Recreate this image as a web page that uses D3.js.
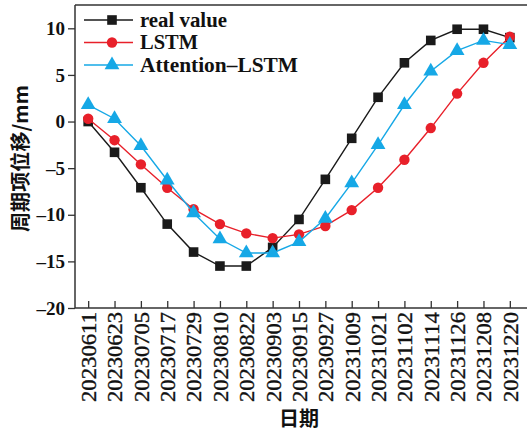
<!DOCTYPE html>
<html>
<head>
<meta charset="utf-8">
<script src="https://cdn.jsdelivr.net/npm/d3@7"></script>
<style>
  html, body { margin: 0; padding: 0; background: #fff; }
  svg { display: block; }
</style>
</head>
<body>
<div id="chart"></div>
<script>
// ── 數據 ──────────────────────────────────────────────
const dates = ["20230611","20230623","20230705","20230717","20230729","20230810",
  "20230822","20230903","20230915","20230927","20231009","20231021","20231102",
  "20231114","20231126","20231208","20231220"];
const realValue = [0.0, -3.3, -7.1, -11.0, -14.0, -15.5, -15.5, -13.5, -10.5, -6.2,
  -1.8, 2.6, 6.3, 8.7, 9.9, 9.9, 9.0];
const lstm = [0.3, -2.0, -4.6, -7.1, -9.4, -11.0, -12.0, -12.5, -12.1, -11.2,
  -9.5, -7.1, -4.1, -0.7, 3.0, 6.3, 9.1];
const attLstm = [1.8, 0.3, -2.6, -6.3, -9.8, -12.6, -14.1, -14.1, -12.9, -10.4,
  -6.6, -2.5, 1.8, 5.4, 7.6, 8.7, 8.25];
const yTicks = [-20, -15, -10, -5, 0, 5, 10];

const series = [
  { name: "real value",     values: realValue, color: "#1a1a1a", marker: "square",   textW: 87 },
  { name: "LSTM",           values: lstm,      color: "#e8202a", marker: "circle",   textW: 58 },
  { name: "Attention\u2013LSTM", values: attLstm, color: "#16a8e6", marker: "triangle", textW: 158 },
];

const W = 527, H = 433;
const L = 75, R = 523, T = 5, B = 308;
const SERIF = "'Liberation Serif','DejaVu Serif',serif";
const CJK = "'Noto Sans CJK SC','Noto Sans',sans-serif";

const svg = d3.select("#chart").append("svg")
  .attr("width", W).attr("height", H);

const x = d3.scalePoint().domain(dates).range([L, R]).padding(0.5);
const y = d3.scaleLinear().domain([-20, 12.5]).range([B, T]);

// ── 邊框（上、下、左）──
svg.append("line").attr("x1", L).attr("x2", W).attr("y1", T).attr("y2", T)
  .attr("stroke", "#333").attr("stroke-width", 1.5);

// x 軸：刻度朝內
const xAxis = svg.append("g").attr("transform", `translate(0,${B})`)
  .call(d3.axisBottom(x).tickSize(-7).tickSizeOuter(0).tickFormat(""));
xAxis.select(".domain").attr("d", `M${L},0H${W}`).attr("stroke", "#333").attr("stroke-width", 1.5);
xAxis.selectAll(".tick line").attr("stroke", "#333").attr("stroke-width", 1.3);

xAxis.selectAll(".tick").append("text")
  .attr("transform", "rotate(-90)")
  .attr("x", -4).attr("y", 0).attr("dy", "0.35em")
  .attr("text-anchor", "end")
  .attr("fill", "#111").attr("stroke", "#111").attr("stroke-width", 0.35)
  .style("font-family", SERIF).style("font-size", "21px")
  .attr("textLength", 90).attr("lengthAdjust", "spacingAndGlyphs")
  .text(d => d);

// y 軸：刻度朝外
const yAxis = svg.append("g").attr("transform", `translate(${L},0)`)
  .call(d3.axisLeft(y).tickValues(yTicks).tickSize(7).tickSizeOuter(0)
    .tickFormat(d => d < 0 ? "\u2013" + Math.abs(d) : d));
yAxis.select(".domain").attr("d", `M0,${T}V${B}`).attr("stroke", "#333").attr("stroke-width", 1.5);
yAxis.selectAll(".tick line").attr("stroke", "#333").attr("stroke-width", 1.3);
yAxis.selectAll(".tick text")
  .attr("x", -10)
  .attr("fill", "#111")
  .style("font-family", SERIF).style("font-size", "19px").style("font-weight", "bold");

// ── 軸標題 ──
svg.append("text")
  .attr("transform", `translate(21,${(T + B) / 2 + 2}) rotate(-90)`)
  .attr("text-anchor", "middle").attr("dy", "0.35em")
  .attr("fill", "#111")
  .style("font-family", CJK).style("font-size", "20px").style("font-weight", "bold")
  .attr("textLength", 147).attr("lengthAdjust", "spacing")
  .text("周期项位移/mm");

svg.append("text")
  .attr("x", (L + R) / 2).attr("y", 419)
  .attr("text-anchor", "middle").attr("dy", "0.35em")
  .attr("fill", "#111")
  .style("font-family", CJK).style("font-size", "20px").style("font-weight", "bold")
  .text("日期");

// ── 標記 ──
function drawMarker(g, type, cx, cy, color) {
  if (type === "square") {
    g.append("rect").attr("x", cx - 4.8).attr("y", cy - 4.8)
      .attr("width", 9.6).attr("height", 9.6).attr("fill", color);
  } else if (type === "circle") {
    g.append("circle").attr("cx", cx).attr("cy", cy).attr("r", 5.2).attr("fill", color);
  } else {
    g.append("path")
      .attr("d", d3.symbol().type(d3.symbolTriangle).size(95)())
      .attr("transform", `translate(${cx},${cy})`)
      .attr("fill", color);
  }
}

const line = d3.line().x((d, i) => x(dates[i])).y(d => y(d));

series.forEach(s => {
  const g = svg.append("g");
  g.append("path").datum(s.values)
    .attr("d", line)
    .attr("fill", "none").attr("stroke", s.color).attr("stroke-width", 1.4);
  s.values.forEach((v, i) => drawMarker(g, s.marker, x(dates[i]), y(v), s.color));
});

// ── 圖例 ──
const leg = svg.append("g");
series.forEach((s, i) => {
  const ly = 20 + i * 22.5;
  leg.append("line").attr("x1", 84).attr("x2", 133).attr("y1", ly).attr("y2", ly)
    .attr("stroke", s.color).attr("stroke-width", 1.4);
  drawMarker(leg, s.marker, 112, ly, s.color);
  leg.append("text")
    .attr("x", 140).attr("y", ly).attr("dy", "0.33em")
    .attr("fill", "#111")
    .style("font-family", SERIF).style("font-size", "20px").style("font-weight", "bold")
    .attr("textLength", s.textW).attr("lengthAdjust", "spacingAndGlyphs")
    .text(s.name);
});
</script>
</body>
</html>
